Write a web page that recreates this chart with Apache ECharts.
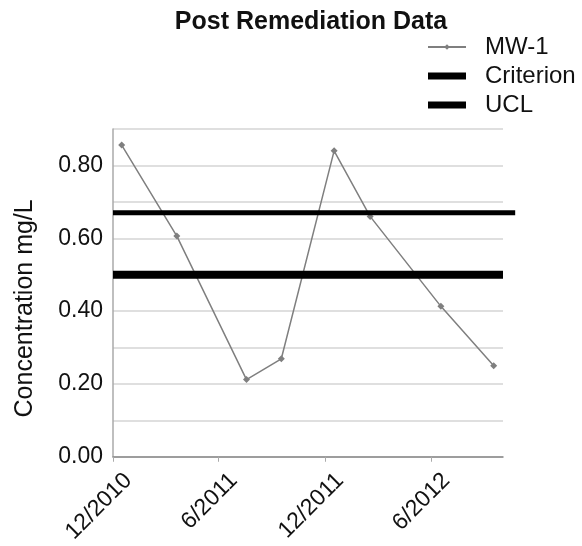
<!DOCTYPE html>
<html>
	<head>
		<meta charset="utf-8" />
		<title>Post Remediation Data</title>
		<style type="text/css">
			body,
			html,
			#chart {
				width: 100%;
				height: 100%;
				overflow: hidden;
				margin: 0;
				background: #fff;
			}
		</style>
	</head>
	<body>
		<div id="chart"></div>
		<script src="https://cdn.jsdelivr.net/npm/echarts@6/dist/echarts.min.js"></script>
		<script>
			// sample dates (year, month 1-12, day) and concentrations for MW-1
			var sampleDates = [
				[2010, 12, 16],
				[2011, 3, 21],
				[2011, 7, 19],
				[2011, 9, 17],
				[2011, 12, 17],
				[2012, 2, 17],
				[2012, 6, 18],
				[2012, 9, 17]
			];
			var mw1Values = [0.856, 0.606, 0.212, 0.269, 0.84, 0.66, 0.413, 0.25];
			var criterionValue = 0.50;
			var uclValue = 0.67;
			// x axis tick dates
			var tickDates = [
				[2010, 12, 1],
				[2011, 6, 1],
				[2011, 12, 1],
				[2012, 6, 1]
			];
			var axisStart = [2010, 12, 1];
			var axisEnd = [2012, 10, 3];
			var uclEnd = [2012, 10, 24];

			function toTime(d) {
				return new Date(d[0], d[1] - 1, d[2]).getTime();
			}

			var font = 'Liberation Sans, Arial, sans-serif';
			var dom = document.getElementById('chart');
			var myChart = echarts.init(dom, null, { renderer: 'canvas' });

			var mw1Data = sampleDates.map(function (d, i) {
				return [toTime(d), mw1Values[i]];
			});
			var xMin = toTime(axisStart);
			var xMax = toTime(axisEnd);
			var ticks = tickDates.map(toTime);

			var option = {
				animation: false,
				title: {
					text: 'Post Remediation Data',
					left: 306,
					textAlign: 'center',
					top: 5,
					textStyle: { fontFamily: font, fontSize: 25, fontWeight: 'bold', color: '#111' }
				},
				legend: {
					orient: 'vertical',
					left: 427,
					top: 35,
					padding: 0,
					itemWidth: 38,
					itemHeight: 7,
					itemGap: 5,
					textStyle: { fontFamily: font, fontSize: 24, color: '#111', padding: [0, 0, 0, 14] },
					data: [
						{ name: 'MW-1' },
						{ name: 'Criterion', icon: 'rect' },
						{ name: 'UCL', icon: 'rect' }
					]
				},
				grid: { left: 113, right: 79, top: 129, bottom: 86 },
				xAxis: {
					// dates as timestamps on a value axis so ticks can sit on the half-year marks
					type: 'value',
					min: xMin,
					max: xMax,
					axisLine: { lineStyle: { color: '#888', width: 1.5 } },
					axisTick: { show: true, length: 5, lineStyle: { color: '#aaa' }, customValues: ticks },
					splitLine: { show: false },
					axisLabel: {
						customValues: ticks,
						rotate: 45,
						margin: 5,
						verticalAlign: 'top',
						padding: [10, 0, 0, 0],
						fontFamily: font,
						fontSize: 23,
						color: '#111',
						formatter: function (v) {
							var d = new Date(v);
							return (d.getMonth() + 1) + '/' + d.getFullYear();
						}
					}
				},
				yAxis: {
					type: 'value',
					min: 0,
					max: 0.9,
					interval: 0.1,
					name: 'Concentration mg/L',
					nameLocation: 'middle',
					nameRotate: 90,
					nameGap: 75,
					nameTextStyle: { fontFamily: font, fontSize: 25, color: '#111', padding: [0, 31, 0, 0] },
					axisLine: { show: true, lineStyle: { color: '#aaa', width: 1.5 } },
					axisTick: { show: false },
					splitLine: { lineStyle: { color: '#d4d4d4', width: 1.5 } },
					axisLabel: {
						margin: 10,
						fontFamily: font,
						fontSize: 23,
						color: '#111',
						formatter: function (v) {
							return Math.round(v * 10) % 2 === 0 ? v.toFixed(2) : '';
						}
					}
				},
				series: [
					{
						name: 'MW-1',
						type: 'line',
						data: mw1Data,
						symbol: 'diamond',
						symbolSize: 7,
						z: 2,
						itemStyle: { color: '#7f7f7f' },
						lineStyle: { color: '#7f7f7f', width: 1.5 }
					},
					{
						name: 'Criterion',
						type: 'line',
						data: [[xMin, criterionValue], [xMax, criterionValue]],
						symbol: 'none',
						z: 3,
						itemStyle: { color: '#000' },
						lineStyle: { color: '#000', width: 8 }
					},
					{
						// legend entry only, the line itself is drawn below (it runs past the plot edge)
						name: 'UCL',
						type: 'line',
						data: [],
						symbol: 'none',
						itemStyle: { color: '#000' },
						lineStyle: { color: '#000', width: 5 }
					}
				]
			};
			myChart.setOption(option);

			// UCL line, positioned through the chart's own scales
			var p0 = myChart.convertToPixel({ gridIndex: 0 }, [xMin, uclValue]);
			var p1 = myChart.convertToPixel({ gridIndex: 0 }, [toTime(uclEnd), uclValue]);
			myChart.setOption({
				graphic: [
					{
						type: 'line',
						z: 10,
						shape: { x1: p0[0], y1: p0[1], x2: p1[0], y2: p1[1] },
						style: { stroke: '#000', lineWidth: 5 }
					}
				]
			});
		</script>
	</body>
</html>
